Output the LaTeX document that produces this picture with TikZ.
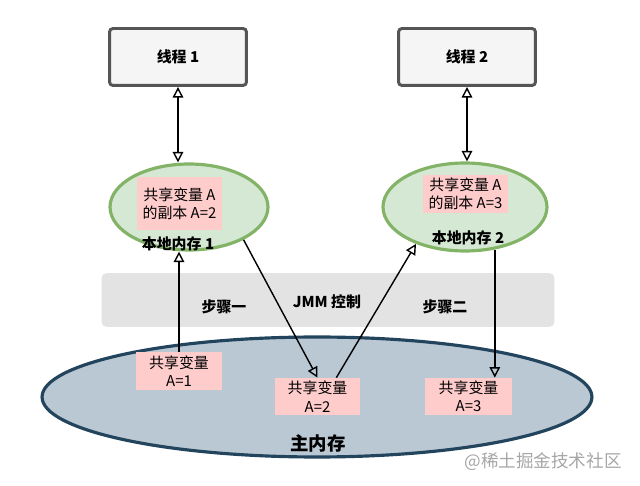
\documentclass[tikz,border=0pt]{standalone}
\usepackage{fontspec}
\setmainfont{Noto Sans CJK SC}
\usetikzlibrary{shapes.geometric,arrows.meta}
\definecolor{boxgray}{HTML}{F5F5F5}
\definecolor{boxedge}{HTML}{555555}
\definecolor{localfill}{HTML}{D5E8D4}
\definecolor{localedge}{HTML}{82B366}
\definecolor{mainfill}{HTML}{BAC8D3}
\definecolor{mainedge}{HTML}{23445D}
\definecolor{notepink}{HTML}{FFCCCC}
\definecolor{bandgray}{HTML}{E3E3E3}
\begin{document}
\begin{tikzpicture}[x=0.02cm, y=-0.02cm,
    thread/.style={draw=boxedge, fill=boxgray, line width=1.7pt, rounded corners=2pt,
        minimum width=2.74cm, minimum height=1.14cm, font=\bfseries\fontsize{8.5}{10}\selectfont},
    localmem/.style={ellipse, draw=localedge, fill=localfill, line width=1.8pt},
    note/.style={fill=notepink, align=center, inner sep=1pt, font=\fontsize{8.5}{10.5}\selectfont},
    lbl/.style={font=\bfseries\fontsize{8.5}{10}\selectfont},
    arr/.style={-{Triangle[open,length=6pt,width=6pt]}, thick}
]
    \useasboundingbox (0,0) rectangle (640,486);

    % JMM band
    \node[fill=bandgray, rounded corners=3pt, minimum width=9.06cm, minimum height=1.08cm] (band) at (328,300) {};
    \node[lbl] (step1) at (224,307) {步骤一};
    \node[lbl] (jmm) at (327,302) {JMM 控制};
    \node[lbl] (step2) at (445,307) {步骤二};

    % Threads
    \node[thread] (t1) at (178,57) {线程 1};
    \node[thread] (t2) at (467,57) {线程 2};

    % Local memories
    \node[localmem, minimum width=3.16cm, minimum height=1.72cm] (l1) at (189,207) {};
    \node[localmem, minimum width=3.28cm, minimum height=1.76cm] (l2) at (465,207) {};
    \node[note, minimum width=1.7cm, minimum height=1.06cm] (n1) at (179.5,203.5) {共享变量 A\\的副本 A=2};
    \node[note, minimum width=1.7cm, minimum height=0.76cm] (n2) at (465.5,194) {共享变量 A\\的副本 A=3};
    \node[lbl] (l1name) at (178,244) {本地内存 1};
    \node[lbl] (l2name) at (468,238) {本地内存 2};

    % Main memory
    \node[ellipse, draw=mainedge, fill=mainfill, line width=1.8pt, minimum width=11cm, minimum height=2.4cm] (main) at (317,397) {};
    \node[note, minimum width=1.72cm, minimum height=0.76cm] (m1) at (179,371) {共享变量\\A=1};
    \node[note, minimum width=1.7cm, minimum height=0.74cm] (m2) at (317.5,396.5) {共享变量\\A=2};
    \node[note, minimum width=1.74cm, minimum height=0.74cm] (m3) at (468.5,396.5) {共享变量\\A=3};
    \node[font=\bfseries\fontsize{10.5}{12}\selectfont] (mainname) at (318,443) {主内存};

    % Arrows
    \draw[arr, {Triangle[open,length=6pt,width=6pt]}-{Triangle[open,length=6pt,width=6pt]}] (t1.south) -- (t1.south |- l1.north);
    \draw[arr, {Triangle[open,length=6pt,width=6pt]}-{Triangle[open,length=6pt,width=6pt]}] (t2.south) -- (t2.south |- l2.north);
    \draw[arr] (m1.north) -- (m1.north |- l1.south);
    \draw[arr] (l1.-31) -- (m2.north);
    \draw[arr] (m2.45) -- (l2.217);
    \draw[arr] (l2.-55) -- (l2.-55 |- m3.north);

    % Watermark
    \node[text=gray!70, font=\fontsize{10}{12}\selectfont] (mark) at (543,462) {@稀土掘金技术社区};
\end{tikzpicture}
\end{document}
